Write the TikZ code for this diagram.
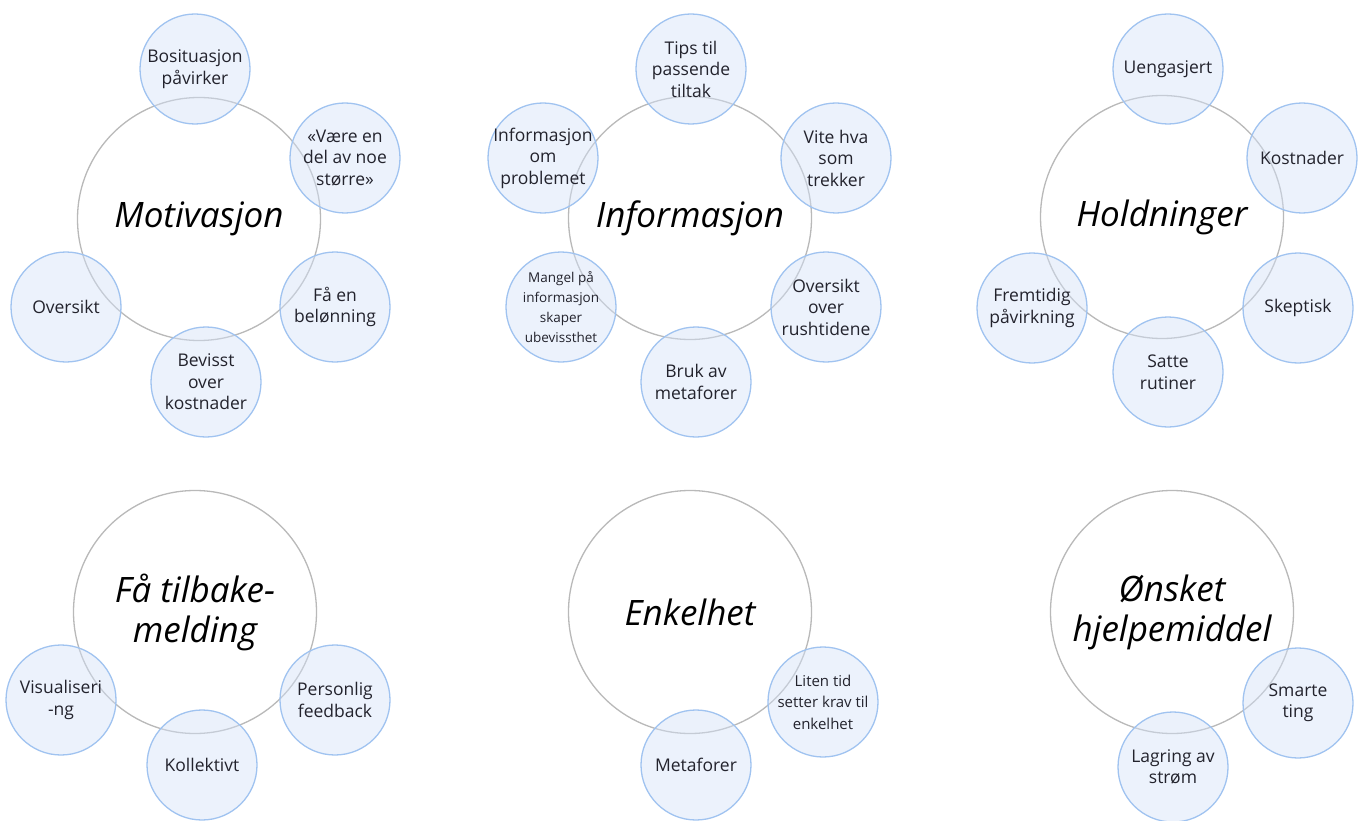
\documentclass[tikz,border=0pt]{standalone}
\usepackage{fontspec}
\setmainfont{Open Sans}
\begin{document}
\begin{tikzpicture}[x=1pt,y=-1pt,
  big/.style={circle, minimum size=243pt, inner sep=-40pt, draw=bigline, line width=1.3pt, fill=white,
    font=\fontsize{35}{40}\selectfont\itshape, align=center, text=black},
  bub/.style={circle, minimum size=110pt, inner sep=-30pt, draw=bubline, line width=1.3pt, fill=bubfill,
    fill opacity=0.45, text opacity=1, font=\fontsize{17.5}{21.5}\selectfont, align=center, text=txt},
]
\definecolor{bigline}{RGB}{185,185,185}
\definecolor{bubline}{RGB}{160,195,240}
\definecolor{bubfill}{RGB}{212,226,248}
\definecolor{txt}{RGB}{35,35,45}
\useasboundingbox (0,0) rectangle (1362,821);

% Motivasjon
\node[big] (mot) at (199,219) {Motivasjon};
\node[bub] (mot1) at (195,69) {Bosituasjon\\påvirker};
\node[bub] (mot2) at (345,158) {«Være en\\del av noe\\større»};
\node[bub] (mot3) at (335,307) {Få en\\belønning};
\node[bub] (mot4) at (206,382) {Bevisst\\over\\kostnader};
\node[bub] (mot5) at (66,307) {Oversikt};

% Informasjon
\node[big] (inf) at (690,218) {Informasjon};
\node[bub] (inf1) at (691,69) {Tips til\\passende\\tiltak};
\node[bub] (inf2) at (836,158) {Vite hva\\som\\trekker};
\node[bub] (inf3) at (826,307) {Oversikt\\over\\rushtidene};
\node[bub] (inf4) at (696,382) {Bruk av\\metaforer};
\node[bub, font=\fontsize{13.5}{20}\selectfont] (inf5) at (561,307) {Mangel på\\informasjon\\skaper\\ubevissthet};
\node[bub] (inf6) at (543,158) {Informasjon\\om\\problemet};

% Holdninger
\node[big] (hol) at (1162,217) {Holdninger};
\node[bub] (hol1) at (1168,69) {Uengasjert};
\node[bub] (hol2) at (1302,158) {Kostnader};
\node[bub] (hol3) at (1298,308) {Skeptisk};
\node[bub] (hol4) at (1168,372) {Satte\\rutiner};
\node[bub] (hol5) at (1032,308) {Fremtidig\\påvirkning};

% Få tilbakemelding
\node[big] (fat) at (195,612) {Få tilbake-\\melding};
\node[bub] (fat1) at (61,700) {Visualiseri\\-ng};
\node[bub] (fat2) at (335,700) {Personlig\\feedback};
\node[bub] (fat3) at (202,765) {Kollektivt};

% Enkelhet
\node[big] (enk) at (690,612) {Enkelhet};
\node[bub, font=\fontsize{15}{21.5}\selectfont] (enk1) at (823,702) {Liten tid\\setter krav til\\enkelhet};
\node[bub] (enk2) at (696,765) {Metaforer};

% Ønsket hjelpemiddel
\node[big] (ons) at (1172,612) {Ønsket\\hjelpemiddel};
\node[bub] (ons1) at (1298,703) {Smarte\\ting};
\node[bub] (ons2) at (1173,767) {Lagring av\\strøm};
\end{tikzpicture}
\end{document}
